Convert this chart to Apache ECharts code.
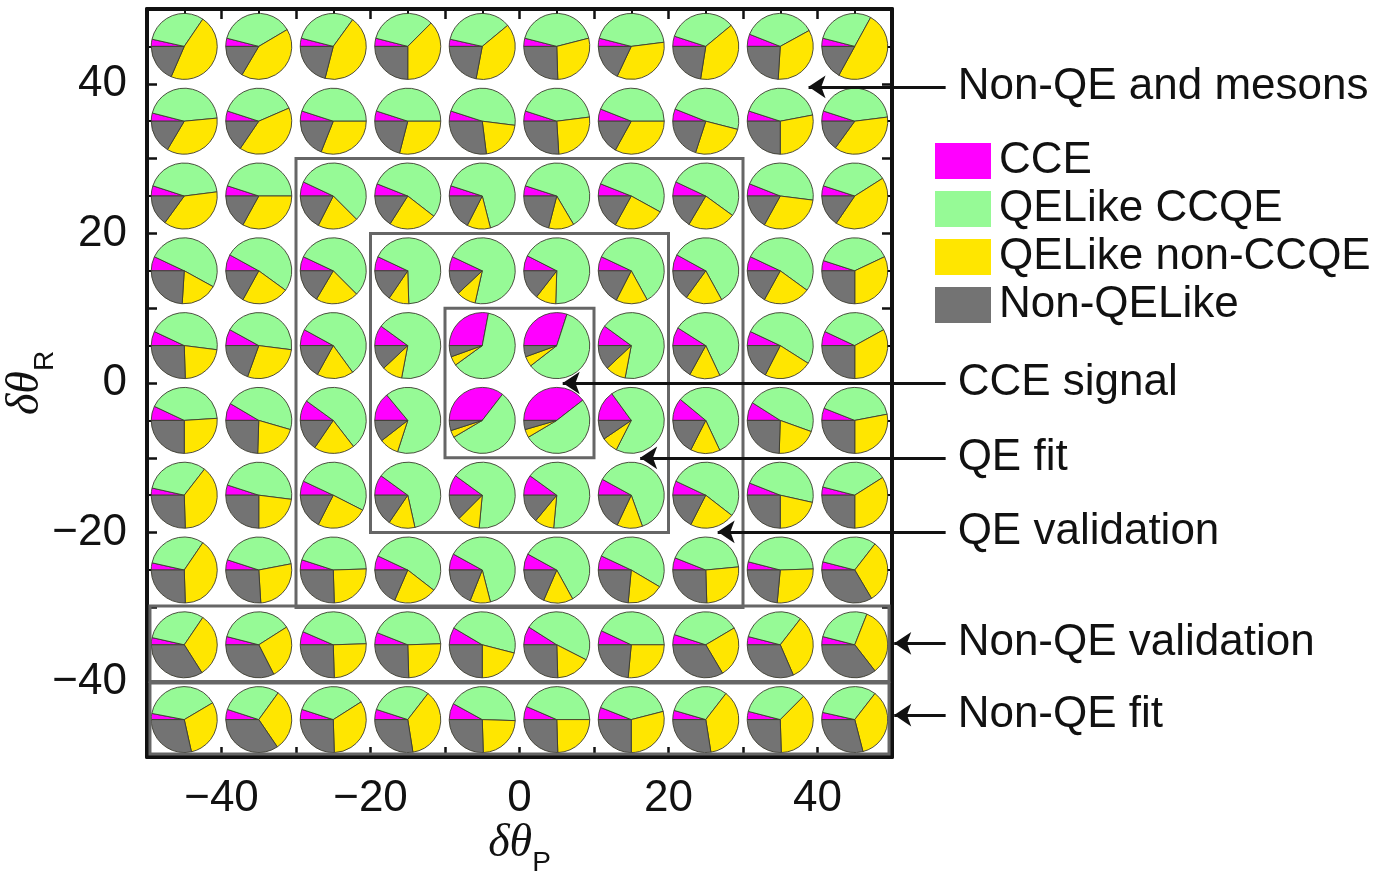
<!DOCTYPE html>
<html>
<head>
<meta charset="utf-8">
<script src="https://cdn.jsdelivr.net/npm/echarts@6/dist/echarts.min.js"></script>
<style>
  html, body { margin: 0; padding: 0; background: #fff; }
  #main { width: 1389px; height: 875px; }
</style>
</head>
<body>
<div id="main"></div>
<script>
  // pie centres (columns = dθP, rows = dθR from top to bottom)
  var xCenters = [-45, -35, -25, -15, -5, 5, 15, 25, 35, 45];
  var yCenters = [45, 35, 25, 15, 5, -5, -15, -25, -35, -45];

  var categories = ['CCE', 'QELike CCQE', 'QELike non-CCQE', 'Non-QELike'];
  var colors = ['#ff00ff', '#96fa96', '#ffe600', '#737373'];

  // fractions, row by row
  var cce = [
    [0.035, 0.04, 0.04, 0.04, 0.035, 0.04, 0.04, 0.05, 0.06, 0.04],
    [0.04, 0.05, 0.05, 0.05, 0.05, 0.05, 0.06, 0.06, 0.05, 0.05],
    [0.05, 0.05, 0.07, 0.06, 0.05, 0.05, 0.06, 0.07, 0.06, 0.05],
    [0.07, 0.08, 0.07, 0.07, 0.07, 0.075, 0.07, 0.08, 0.07, 0.05],
    [0.07, 0.08, 0.08, 0.1, 0.28, 0.3, 0.1, 0.09, 0.07, 0.07],
    [0.07, 0.085, 0.1, 0.14, 0.355, 0.395, 0.15, 0.11, 0.09, 0.06],
    [0.035, 0.05, 0.07, 0.1, 0.1, 0.1, 0.08, 0.07, 0.06, 0.04],
    [0.035, 0.05, 0.05, 0.07, 0.08, 0.08, 0.07, 0.06, 0.04, 0.04],
    [0.035, 0.04, 0.065, 0.06, 0.085, 0.09, 0.07, 0.05, 0.04, 0.04],
    [0.03, 0.05, 0.05, 0.05, 0.08, 0.065, 0.06, 0.045, 0.04, 0.035]
  ];
  var qeCcqe = [
    [0.31, 0.375, 0.31, 0.335, 0.355, 0.42, 0.44, 0.34, 0.36, 0.29],
    [0.445, 0.385, 0.45, 0.45, 0.47, 0.43, 0.44, 0.48, 0.42, 0.43],
    [0.43, 0.45, 0.555, 0.545, 0.66, 0.615, 0.52, 0.53, 0.46, 0.36],
    [0.51, 0.52, 0.555, 0.675, 0.715, 0.68, 0.6, 0.59, 0.53, 0.38],
    [0.45, 0.44, 0.57, 0.68, 0.62, 0.595, 0.68, 0.59, 0.52, 0.35],
    [0.42, 0.46, 0.545, 0.66, 0.56, 0.52, 0.675, 0.57, 0.465, 0.41],
    [0.32, 0.47, 0.505, 0.615, 0.665, 0.665, 0.615, 0.535, 0.475, 0.37],
    [0.31, 0.42, 0.445, 0.535, 0.63, 0.59, 0.515, 0.425, 0.455, 0.315],
    [0.31, 0.37, 0.43, 0.435, 0.455, 0.485, 0.43, 0.365, 0.315, 0.27],
    [0.385, 0.3, 0.36, 0.305, 0.425, 0.435, 0.4, 0.31, 0.335, 0.32]
  ];
  var qeNonCcqe = [
    [0.47, 0.42, 0.44, 0.375, 0.39, 0.285, 0.34, 0.385, 0.34, 0.5],
    [0.35, 0.41, 0.31, 0.29, 0.21, 0.26, 0.33, 0.26, 0.28, 0.37],
    [0.37, 0.33, 0.2, 0.235, 0.115, 0.125, 0.25, 0.235, 0.31, 0.435],
    [0.18, 0.23, 0.21, 0.1, 0.095, 0.1, 0.155, 0.18, 0.23, 0.32],
    [0.225, 0.285, 0.18, 0.1, 0.045, 0.05, 0.1, 0.15, 0.235, 0.33],
    [0.26, 0.21, 0.2, 0.095, 0.035, 0.04, 0.08, 0.145, 0.2, 0.28],
    [0.39, 0.23, 0.25, 0.13, 0.11, 0.095, 0.125, 0.22, 0.215, 0.34],
    [0.4, 0.27, 0.25, 0.21, 0.1, 0.145, 0.18, 0.26, 0.27, 0.31],
    [0.315, 0.265, 0.25, 0.25, 0.21, 0.17, 0.265, 0.25, 0.33, 0.335],
    [0.3, 0.305, 0.335, 0.37, 0.24, 0.245, 0.29, 0.37, 0.37, 0.355]
  ];
  var nonQeLike = [
    [0.185, 0.165, 0.21, 0.25, 0.22, 0.255, 0.18, 0.225, 0.24, 0.17],
    [0.165, 0.155, 0.19, 0.21, 0.27, 0.26, 0.17, 0.2, 0.25, 0.15],
    [0.15, 0.17, 0.175, 0.16, 0.175, 0.21, 0.17, 0.165, 0.17, 0.155],
    [0.24, 0.17, 0.165, 0.155, 0.12, 0.145, 0.175, 0.15, 0.17, 0.25],
    [0.255, 0.195, 0.17, 0.12, 0.055, 0.055, 0.12, 0.17, 0.175, 0.25],
    [0.25, 0.245, 0.155, 0.105, 0.05, 0.045, 0.095, 0.175, 0.245, 0.25],
    [0.255, 0.25, 0.175, 0.155, 0.125, 0.14, 0.18, 0.175, 0.25, 0.25],
    [0.255, 0.26, 0.255, 0.185, 0.19, 0.185, 0.235, 0.255, 0.235, 0.335],
    [0.34, 0.325, 0.255, 0.255, 0.25, 0.255, 0.235, 0.335, 0.315, 0.355],
    [0.285, 0.345, 0.255, 0.275, 0.255, 0.255, 0.25, 0.275, 0.255, 0.29]
  ];

  // selection boxes [x1, y1, x2, y2]
  var boxes = [
    [-30, -30, 30, 30],
    [-20, -20, 20, 20],
    [-10, -10, 10, 10],
    [-49.6, -39.9, 49.6, -29.8],
    [-49.6, -49.6, 49.6, -40.1]
  ];

  // annotations: text, arrow tail, arrow tip
  var noteTexts = ['Non-QE and mesons', 'CCE signal', 'QE fit', 'QE validation', 'Non-QE validation', 'Non-QE fit'];
  var noteFrom = [[57.2, 39.6], [57.2, 0], [57.2, -10], [57.2, -19.9], [57.2, -34.8], [57.2, -44.4]];
  var noteTo = [[38.8, 39.6], [5.8, 0], [16.2, -10], [26.6, -19.9], [50.3, -34.8], [50.3, -44.4]];

  var pieRadius = 4.43;
  var fontFamily = '"Liberation Sans", Arial, Helvetica, sans-serif';

  var table = [cce, qeCcqe, qeNonCcqe, nonQeLike];

  /*每个类别一条 custom series：[x, y, 起始比例, 结束比例]*/
  function buildSlices(k) {
    var out = [];
    for (var i = 0; i < yCenters.length; i++) {
      for (var j = 0; j < xCenters.length; j++) {
        var total = 0, before = 0;
        for (var c = 0; c < table.length; c++) {
          total += table[c][i][j];
          if (c < k) before += table[c][i][j];
        }
        out.push([xCenters[j], yCenters[i], before / total, (before + table[k][i][j]) / total]);
      }
    }
    return out;
  }

  function renderSlice(params, api) {
    var c = api.coord([api.value(0), api.value(1)]);
    var r = api.size([pieRadius, 0])[0];
    var a0 = Math.PI + api.value(2) * 2 * Math.PI;
    var a1 = Math.PI + api.value(3) * 2 * Math.PI;
    return {
      type: 'sector',
      shape: {cx: c[0], cy: c[1], r: r, r0: 0, startAngle: a0, endAngle: a1, clockwise: true},
      style: {fill: api.visual('color'), stroke: '#3c3c30', lineWidth: 0.9}
    };
  }

  function renderBox(params, api) {
    var p1 = api.coord([api.value(0), api.value(1)]);
    var p2 = api.coord([api.value(2), api.value(3)]);
    return {
      type: 'rect',
      shape: {x: Math.min(p1[0], p2[0]), y: Math.min(p1[1], p2[1]),
              width: Math.abs(p2[0] - p1[0]), height: Math.abs(p2[1] - p1[1])},
      style: {fill: 'none', stroke: '#666', lineWidth: 3}
    };
  }

  function tickLabel(v) {
    if (v % 20 !== 0 || Math.abs(v) >= 50) return '';
    return String(v).replace('-', '\u2212');
  }

  function makeAxis(position, showLabel, extra) {
    var axis = {
      type: 'value', position: position, min: -50, max: 50, interval: 10,
      axisLine: {show: true, onZero: false, lineStyle: {color: '#111', width: 4}},
      axisTick: {show: true, inside: true, length: 10, lineStyle: {color: '#111', width: 2.5}},
      minorTick: {show: true, splitNumber: 2, length: 6, lineStyle: {color: '#111', width: 2}},
      splitLine: {show: false},
      axisLabel: {show: showLabel, formatter: tickLabel, fontSize: 44, color: '#111', fontFamily: fontFamily, margin: 20}
    };
    return Object.assign(axis, extra || {});
  }

  var series = categories.map(function (name, k) {
    return {
      name: name,
      type: 'custom',
      coordinateSystem: 'cartesian2d',
      itemStyle: {color: colors[k]},
      renderItem: renderSlice,
      data: buildSlices(k),
      z: 2
    };
  });

  series.push({
    name: 'boxes',
    type: 'custom',
    renderItem: renderBox,
    data: boxes,
    silent: true,
    z: 3
  });

  series.push({
    name: 'notes',
    type: 'lines',
    coordinateSystem: 'cartesian2d',
    clip: false,
    symbol: ['none', 'arrow'],
    symbolSize: 17,
    lineStyle: {color: '#111', width: 3, opacity: 1},
    label: {
      show: true, position: 'start', distance: 12,
      formatter: '{b}', fontSize: 44, color: '#111', fontFamily: fontFamily
    },
    data: noteTexts.map(function (t, i) {
      return {name: t, coords: [noteFrom[i], noteTo[i]]};
    }),
    z: 4
  });

  var nameRich = {
    a: {fontSize: 46, fontFamily: '"Liberation Serif", "Times New Roman", serif', fontStyle: 'italic', color: '#111', padding: [0, 0, 10, 0], verticalAlign: 'bottom'},
    b: {fontSize: 28, fontFamily: fontFamily, color: '#111', verticalAlign: 'bottom'}
  };

  var myChart = echarts.init(document.getElementById('main'));
  myChart.setOption({
    animation: false,
    backgroundColor: '#fff',
    grid: {left: 147, right: 497, top: 9, bottom: 118, show: false, containLabel: false, outerBoundsMode: 'none'},
    legend: {
      data: categories,
      orient: 'vertical',
      left: 930, top: 134,
      icon: 'rect',
      itemWidth: 56, itemHeight: 36, itemGap: 4,
      selectedMode: false,
      textStyle: {fontSize: 44, color: '#111', fontFamily: fontFamily, padding: [0, 0, 0, 3]}
    },
    xAxis: [
      makeAxis('bottom', true, {
        name: '{a|δθ}{b|P}', nameLocation: 'middle', nameGap: 64, nameMoveOverlap: false,
        nameTextStyle: {rich: nameRich}
      }),
      makeAxis('top', false)
    ],
    yAxis: [
      makeAxis('left', true, {
        name: '{a|δθ}{b|R}', nameLocation: 'middle', nameGap: 88, nameRotate: 90, nameMoveOverlap: false,
        nameTextStyle: {rich: nameRich}
      }),
      makeAxis('right', false)
    ],
    series: series
  });
</script>
</body>
</html>
